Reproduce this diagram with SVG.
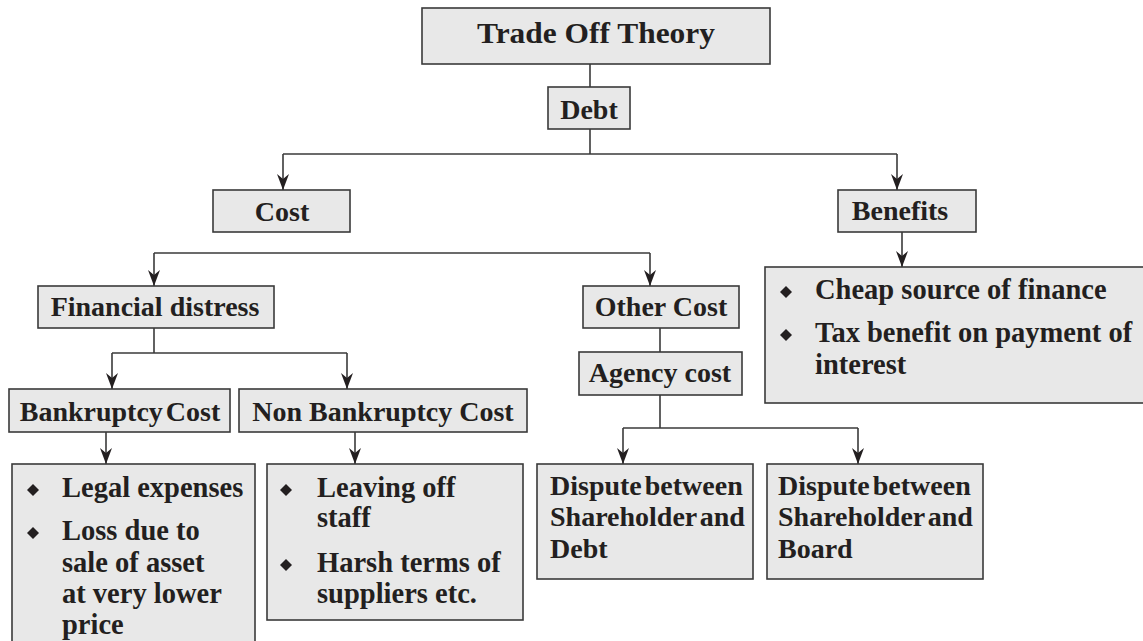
<svg xmlns="http://www.w3.org/2000/svg" width="1143" height="641" viewBox="0 0 1143 641">
<style>
.box{fill:#e8e8e8;stroke:#3a3a3a;stroke-width:1.6}
.t{font-family:"Liberation Serif","Times New Roman",serif;font-weight:bold;fill:#231f20;font-size:28.5px}
.h{font-size:28px}
.c{text-anchor:middle}
.ln{fill:none;stroke:#3a3a3a;stroke-width:1.6}
.ar{marker-end:url(#arr)}
.bul{fill:#231f20}
</style>
<defs>
<marker id="arr" viewBox="0 0 16 12" refX="16" refY="6" markerWidth="16" markerHeight="12" markerUnits="userSpaceOnUse" orient="auto">
<path d="M0,0 L16,6 L0,12 L5,6 z" fill="#231f20"/>
</marker>
<path id="dia" d="M0,-6 L6,0 L0,6 L-6,0 z"/>
</defs>

<g id="connectors">
<path class="ln" d="M590,64 V87"/>
<path class="ln" d="M590,129 V154"/>
<path class="ln" d="M283,154 H897"/>
<path class="ln ar" d="M283,154 V190"/>
<path class="ln ar" d="M897,154 V190"/>
<path class="ln ar" d="M902,232 V267"/>
<path class="ln" d="M154,253 H650"/>
<path class="ln ar" d="M154,253 V286"/>
<path class="ln ar" d="M650,253 V286"/>
<path class="ln" d="M660,328 V352"/>
<path class="ln" d="M660,395 V428"/>
<path class="ln" d="M623,428 H858"/>
<path class="ln ar" d="M623,428 V464"/>
<path class="ln ar" d="M858,428 V464"/>
<path class="ln" d="M154,328 V353"/>
<path class="ln" d="M112,353 H347"/>
<path class="ln ar" d="M112,353 V389"/>
<path class="ln ar" d="M347,353 V389"/>
<path class="ln ar" d="M106,432 V464"/>
<path class="ln ar" d="M355,432 V464"/>
</g>

<g id="trade-off-theory">
<rect class="box" x="422" y="8" width="348" height="56"/>
<text class="t c" x="596" y="43" font-size="34" textLength="238" lengthAdjust="spacingAndGlyphs">Trade Off Theory</text>
</g>

<g id="debt">
<rect class="box" x="548" y="87" width="82" height="42"/>
<text class="t h c" x="589" y="119">Debt</text>
</g>

<g id="cost">
<rect class="box" x="213" y="190" width="137" height="42"/>
<text class="t h c" x="282" y="221">Cost</text>
</g>

<g id="benefits">
<rect class="box" x="838" y="190" width="138" height="42"/>
<text class="t h c" x="900" y="220">Benefits</text>
</g>

<g id="benefits-list">
<rect class="box" x="765" y="267" width="400" height="136"/>
<use href="#dia" class="bul" x="786" y="292"/>
<text class="t" x="815" y="299" font-size="29">Cheap source of finance</text>
<use href="#dia" class="bul" x="786" y="335"/>
<text class="t" x="815" y="342" font-size="29">Tax benefit on payment of</text>
<text class="t" x="815" y="374" font-size="29">interest</text>
</g>

<g id="financial-distress">
<rect class="box" x="38" y="286" width="236" height="42"/>
<text class="t h c" x="155" y="316">Financial distress</text>
</g>

<g id="other-cost">
<rect class="box" x="583" y="286" width="156" height="42"/>
<text class="t h c" x="661" y="316">Other Cost</text>
</g>

<g id="agency-cost">
<rect class="box" x="579" y="352" width="163" height="43"/>
<text class="t h c" x="660" y="382">Agency cost</text>
</g>

<g id="bankruptcy-cost">
<rect class="box" x="9" y="389" width="221" height="43"/>
<text class="t h c" x="120" y="421" word-spacing="-4">Bankruptcy Cost</text>
</g>

<g id="non-bankruptcy-cost">
<rect class="box" x="239" y="389" width="288" height="43"/>
<text class="t h c" x="383" y="421">Non Bankruptcy Cost</text>
</g>

<g id="bankruptcy-list">
<rect class="box" x="12" y="464" width="243" height="200"/>
<use href="#dia" class="bul" x="33" y="490"/>
<text class="t" x="62" y="497">Legal expenses</text>
<use href="#dia" class="bul" x="33" y="533"/>
<text class="t" x="62" y="540">Loss due to</text>
<text class="t" x="62" y="572">sale of asset</text>
<text class="t" x="62" y="603">at very lower</text>
<text class="t" x="62" y="634">price</text>
</g>

<g id="non-bankruptcy-list">
<rect class="box" x="267" y="464" width="256" height="156"/>
<use href="#dia" class="bul" x="286" y="490"/>
<text class="t" x="317" y="497">Leaving off</text>
<text class="t" x="317" y="527">staff</text>
<use href="#dia" class="bul" x="286" y="565"/>
<text class="t" x="317" y="572">Harsh terms of</text>
<text class="t" x="317" y="603">suppliers etc.</text>
</g>

<g id="dispute-debt">
<rect class="box" x="537" y="464" width="216" height="115"/>
<text class="t h" x="550" y="495" word-spacing="-4">Dispute between</text>
<text class="t h" x="550" y="526" word-spacing="-4">Shareholder and</text>
<text class="t h" x="550" y="558">Debt</text>
</g>

<g id="dispute-board">
<rect class="box" x="767" y="464" width="216" height="115"/>
<text class="t h" x="778" y="495" word-spacing="-4">Dispute between</text>
<text class="t h" x="778" y="526" word-spacing="-4">Shareholder and</text>
<text class="t h" x="778" y="558">Board</text>
</g>
</svg>
